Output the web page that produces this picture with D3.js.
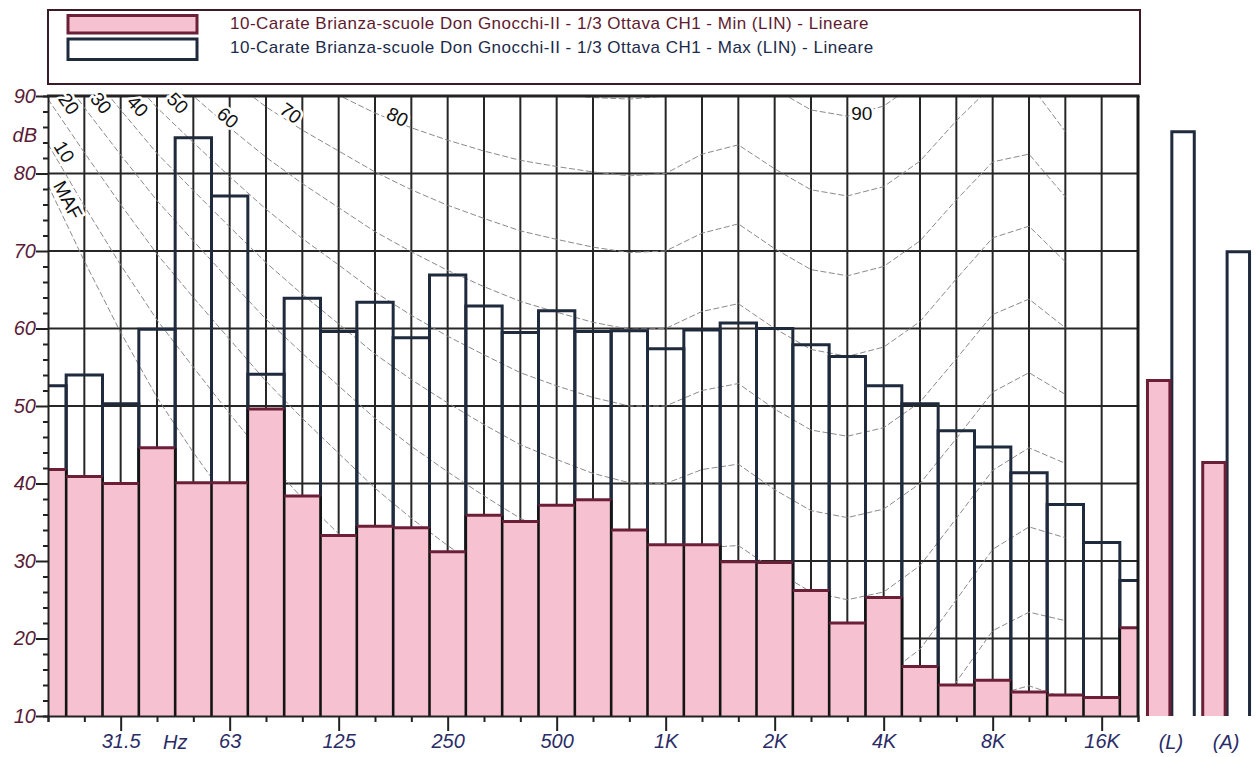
<!DOCTYPE html>
<html><head><meta charset="utf-8">
<script src="https://cdn.jsdelivr.net/npm/d3@7/dist/d3.min.js"></script>
<style>
body{margin:0;background:#fff;}
svg{display:block;font-family:"Liberation Sans",Arial,sans-serif;}
</style></head><body>
<svg id="chart" width="1257" height="757"></svg>
<script>
// ---- data ----
const bands = ["20","25","31.5","40","50","63","80","100","125","160","200","250","315","400","500","630","800","1k","1.25k","1.6k","2k","2.5k","3.15k","4k","5k","6.3k","8k","10k","12.5k","16k","20k"];
const minValues = [41.8,40.9,40.0,44.6,40.1,40.1,49.6,38.4,33.3,34.5,34.3,31.2,35.9,35.1,37.2,37.9,34.0,32.1,32.1,29.9,29.8,26.2,22.0,25.3,16.4,14.0,14.6,13.1,12.7,12.4,21.4];
const maxValues = [52.6,54.0,50.3,59.9,84.6,77.1,54.1,63.9,59.6,63.4,58.8,66.9,62.9,59.5,62.3,59.6,59.7,57.4,59.8,60.7,60.0,57.9,56.4,52.6,50.3,46.8,44.7,41.4,37.3,32.4,27.5];
const totalLabels = ["(L)","(A)"];
const totalMin = [53.3,42.7];
const totalMax = [85.4,69.9];
const xTickLabels = ["31.5","63","125","250","500","1K","2K","4K","8K","16K"];
const xTickBands = ["31.5","63","125","250","500","1k","2k","4k","8k","16k"];
const yTickValues = [10,20,30,40,50,60,70,80,90];
const legendLabels = ["10-Carate Brianza-scuole Don Gnocchi-II - 1/3 Ottava CH1 - Min (LIN) - Lineare",
                      "10-Carate Brianza-scuole Don Gnocchi-II - 1/3 Ottava CH1 - Max (LIN) - Lineare"];
// equal-loudness contours, 20 Hz .. 12.5 kHz (dB)
const contourBands = bands.slice(0,29);
const contourMAF = [78.5,68.7,59.5,51.1,44.0,37.5,31.5,26.5,22.1,17.9,14.4,11.4,8.6,6.2,4.4,3.0,2.2,2.4,3.5,1.7,-1.3,-4.2,-6.0,-5.4,-1.5,6.0,12.6,13.9,12.3];
const contour10 = [83.8,75.8,68.2,61.1,55.0,49.0,43.2,38.1,33.5,28.8,24.8,21.3,18.1,15.1,13.0,11.2,10.0,10.0,11.3,10.4,7.3,4.5,3.0,3.8,7.5,14.4,21.0,23.4,22.3];
const contour20 = [89.6,82.7,76.0,69.6,64.0,58.6,53.2,48.4,43.9,39.4,35.5,32.0,28.7,25.7,23.4,21.5,20.1,20.0,21.5,21.4,18.2,15.4,14.3,15.1,18.6,25.0,31.5,34.4,33.0];
const contour30 = [94.9,88.5,82.4,76.5,71.3,66.2,61.2,56.8,52.6,48.4,44.8,41.5,38.4,35.5,33.4,31.5,30.1,30.0,31.7,32.0,28.8,26.0,25.0,26.0,29.4,35.5,41.7,44.6,42.6];
const contour40 = [99.9,93.9,88.2,82.6,77.8,73.1,68.5,64.4,60.6,56.7,53.4,50.4,47.6,45.0,43.1,41.3,40.1,40.0,41.8,42.5,39.2,36.5,35.6,36.7,40.0,45.8,51.8,54.3,51.5];
const contour50 = [104.7,99.1,93.7,88.5,84.0,79.6,75.4,71.6,68.2,64.7,61.7,59.0,56.6,54.3,52.6,51.1,50.0,50.0,52.0,52.9,49.6,46.9,46.1,47.2,50.5,56.1,61.8,63.8,60.1];
const contour60 = [109.5,104.2,99.1,94.2,90.0,85.9,82.1,78.7,75.6,72.5,69.9,67.5,65.4,63.5,62.1,60.8,59.9,60.0,62.2,63.2,60.0,57.3,56.4,57.6,60.9,66.4,71.7,73.2,68.6];
const contour70 = [114.3,109.3,104.4,99.8,95.9,92.2,88.6,85.6,82.9,80.2,77.9,75.9,74.2,72.6,71.5,70.5,69.8,70.0,72.3,73.5,70.3,67.6,66.8,68.0,71.3,76.6,81.5,82.5,77.0];
const contour80 = [119.0,114.2,109.7,105.3,101.7,98.4,95.2,92.5,90.1,87.8,85.9,84.3,82.9,81.7,80.9,80.2,79.7,80.0,82.5,83.7,80.6,77.9,77.1,78.3,81.6,86.8,91.4,91.7,85.4];
const contour90 = [123.7,119.2,114.9,110.9,107.6,104.5,101.7,99.3,97.3,95.4,93.9,92.7,91.6,90.8,90.2,89.8,89.6,90.0,92.7,94.0,90.9,88.2,87.4,88.7,92.0,97.0,101.3,101.0,93.8];
const contourNames = ["MAF","10","20","30","40","50","60","70","80","90"];
// label anchors (band position, dB) and angle
const contourLabelPos = [0.55,0.45,0.58,1.46,2.47,3.57,4.95,6.68,9.62,22.4];
const contourLabelDb  = [76.6,82.8,89.0,89.1,88.7,89.1,87.2,87.8,87.3,87.8];
const contourLabelAngle = [62,58,55,50,48,45,40,36,27,0];

// ---- layout ----
const L = 48, R = 1138, T = 96, B = 716;
const svg = d3.select("#chart");
const x = d3.scaleLinear().domain([0, bands.length - 1]).range([L, R]);
const y = d3.scaleLinear().domain([10, 90]).range([B, T]);
const bi = d => bands.indexOf(d);
const half = 0.5;

const PINK = "#f6c2d2", MAROON = "#6b2038", NAVY = "#1f2a3c", GRID = "#262626";
const FONT = "'Liberation Sans',Arial,sans-serif";

svg.append("rect").attr("width",1257).attr("height",757).attr("fill","#fff");

// legend
const lg = svg.append("g");
lg.append("rect").attr("x",48).attr("y",10).attr("width",1092).attr("height",74)
  .attr("fill","#fff").attr("stroke","#3b1b26").attr("stroke-width",2);
lg.append("rect").attr("x",68).attr("y",15.5).attr("width",129).attr("height",17.5)
  .attr("fill",PINK).attr("stroke",MAROON).attr("stroke-width",3);
lg.append("rect").attr("x",68).attr("y",39).attr("width",129).attr("height",20.5)
  .attr("fill","#fff").attr("stroke",NAVY).attr("stroke-width",3);
lg.selectAll("text.leg").data(legendLabels).join("text").attr("class","leg")
  .attr("x",230).attr("y",(d,i)=> i===0 ? 29 : 53)
  .attr("font-size",17).attr("letter-spacing",0.5).attr("fill",(d,i)=> i===0 ? "#5e1a2f" : "#1b2a4a")
  .text(d=>d);

// clip
svg.append("clipPath").attr("id","plotClip").append("rect")
  .attr("x",L).attr("y",T).attr("width",R-L).attr("height",B-T);
const plot = svg.append("g").attr("clip-path","url(#plotClip)");

// grid
plot.selectAll("line.vg").data(d3.range(1, bands.length-1)).join("line").attr("class","vg")
  .attr("x1",d=>x(d)).attr("x2",d=>x(d)).attr("y1",T).attr("y2",B)
  .attr("stroke",GRID).attr("stroke-width",2);
plot.selectAll("line.hg").data([20,30,40,50,60,70,80]).join("line").attr("class","hg")
  .attr("x1",L).attr("x2",R).attr("y1",d=>y(d)).attr("y2",d=>y(d))
  .attr("stroke",GRID).attr("stroke-width",2);

// contours
const contours = [contourMAF,contour10,contour20,contour30,contour40,contour50,contour60,contour70,contour80,contour90];
const line = d3.line().x((d,i)=>x(i)).y(d=>y(d));
plot.selectAll("path.ct").data(contours).join("path").attr("class","ct")
  .attr("d",line).attr("fill","none").attr("stroke","#8a8a8a")
  .attr("stroke-width",1).attr("stroke-dasharray","6,2.5");

// max bars (outline only)
plot.selectAll("path.mx").data(maxValues).join("path").attr("class","mx")
  .attr("d",(d,i)=>`M${x(i-half)},${B}V${y(d)}H${x(i+half)}V${B}`)
  .attr("fill","none").attr("stroke",NAVY).attr("stroke-width",3);

// min bars
plot.selectAll("rect.mn").data(minValues).join("rect").attr("class","mn")
  .attr("x",(d,i)=>x(i-half)).attr("width",(d,i)=>x(i+half)-x(i-half))
  .attr("y",d=>y(d)).attr("height",d=>B-y(d)).attr("fill",PINK);
plot.selectAll("line.mside").data(d3.range(0, bands.length+1)).join("line").attr("class","mside")
  .attr("x1",i=>x(i-half)).attr("x2",i=>x(i-half))
  .attr("y1",i=>{const a = i>0?minValues[i-1]:10, b = i<bands.length?minValues[i]:10; return y(Math.max(a,b));})
  .attr("y2",B).attr("stroke","#141414").attr("stroke-width",2.6);
plot.selectAll("line.mtop").data(minValues).join("line").attr("class","mtop")
  .attr("x1",(d,i)=>x(i-half)).attr("x2",(d,i)=>x(i+half))
  .attr("y1",d=>y(d)).attr("y2",d=>y(d)).attr("stroke",MAROON).attr("stroke-width",3);

// frame
svg.append("line").attr("x1",L-1).attr("x2",R+1.5).attr("y1",T).attr("y2",T).attr("stroke","#222").attr("stroke-width",3);
svg.append("line").attr("x1",R).attr("x2",R).attr("y1",T).attr("y2",B).attr("stroke","#1a1a1a").attr("stroke-width",3);

// y axis
const yAxis = d3.axisLeft(y).tickValues(d3.range(10,91,2))
  .tickSize(5).tickFormat(d => yTickValues.includes(d) ? d : "");
const ya = svg.append("g").attr("transform",`translate(${L},0)`).call(yAxis)
  .attr("font-size",20).attr("font-family",FONT);
ya.select(".domain").attr("stroke","#222").attr("stroke-width",2);
ya.selectAll(".tick line").attr("stroke","#222").attr("stroke-width",2)
  .attr("x2",d => yTickValues.includes(d) ? -12 : -5);
ya.selectAll(".tick text").attr("x",-12).attr("font-style","italic").attr("fill","#5a1c36");
svg.append("text").attr("x",37).attr("y",y(85)+7).attr("text-anchor","end").attr("font-family",FONT)
  .attr("font-size",20).attr("font-style","italic").attr("fill","#5a1c36").text("dB");

// x axis
const majorIdx = xTickBands.map(bi);
const xAxis = d3.axisBottom(x).tickValues(d3.range(0,bands.length)).tickSize(6)
  .tickFormat(i => { const k = majorIdx.indexOf(i); return k>=0 ? xTickLabels[k] : ""; });
const xa = svg.append("g").attr("transform",`translate(0,${B})`).call(xAxis)
  .attr("font-size",20).attr("font-family",FONT);
xa.select(".domain").attr("stroke","#222").attr("stroke-width",2);
xa.selectAll(".tick line").attr("stroke","#222").attr("stroke-width",2)
  .attr("y2",i => majorIdx.includes(i) ? 15 : 6);
xa.selectAll(".tick text").attr("y",18).attr("dy","0.71em").attr("font-style","italic").attr("fill","#2a2c66");
svg.append("text").attr("x",x(3.5)).attr("y",749).attr("text-anchor","middle").attr("font-family",FONT)
  .attr("font-size",20).attr("font-style","italic").attr("fill","#2a2c66").text("Hz");

// totals (L) and (A)
const xTot = d3.scaleBand().domain(totalLabels).range([1146,1251]).paddingInner(0.1);
const xSub = d3.scaleBand().domain(["min","max"]).range([0,xTot.bandwidth()]).paddingInner(0.08).paddingOuter(0.06);
const tg = svg.append("g");
tg.selectAll("path.tmax").data(totalMax).join("path").attr("class","tmax")
  .attr("d",(d,i)=>{const x0 = xTot(totalLabels[i])+xSub("max"), x1 = x0+xSub.bandwidth();
     return `M${x0},${B}V${y(d)}H${x1}V${B}`;})
  .attr("fill","#fff").attr("stroke",NAVY).attr("stroke-width",3);
tg.selectAll("path.tmin").data(totalMin).join("path").attr("class","tmin")
  .attr("d",(d,i)=>{const x0 = xTot(totalLabels[i])+xSub("min"), x1 = x0+xSub.bandwidth();
     return `M${x0},${B}V${y(d)}H${x1}V${B}`;})
  .attr("fill",PINK).attr("stroke",MAROON).attr("stroke-width",3);
tg.selectAll("text").data(totalLabels).join("text")
  .attr("x",d=>xTot(d)+xTot.bandwidth()/2).attr("y",749).attr("text-anchor","middle").attr("font-family",FONT)
  .attr("font-size",20).attr("font-style","italic").attr("fill","#2a2c66").text(d=>d);

// contour labels
svg.selectAll("text.cl").data(contourNames).join("text").attr("class","cl")
  .attr("transform",(d,i)=>`translate(${x(contourLabelPos[i])},${y(contourLabelDb[i])}) rotate(${contourLabelAngle[i]})`)
  .attr("text-anchor","middle").attr("dy","0.35em").attr("font-size",19).attr("fill","#111")
  .attr("stroke","#fff").attr("stroke-width",5).attr("paint-order","stroke").text(d=>d);
</script>
</body></html>
